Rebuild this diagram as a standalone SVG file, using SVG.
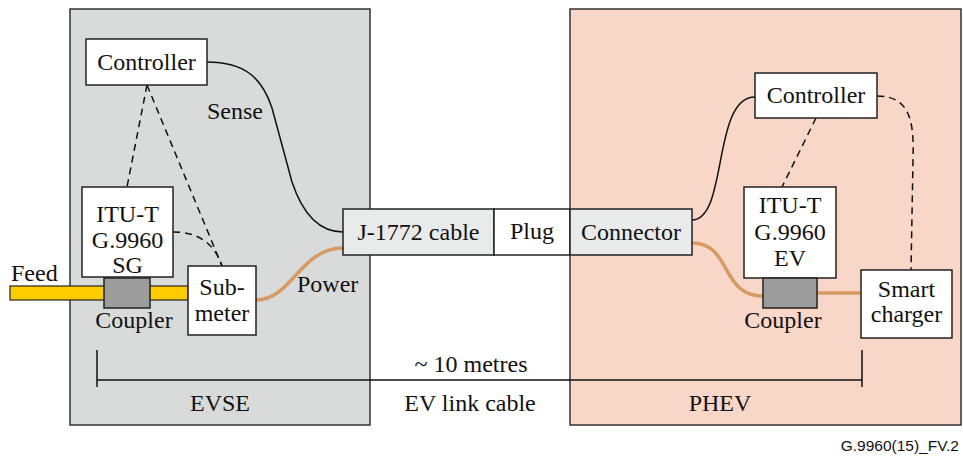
<svg xmlns="http://www.w3.org/2000/svg" width="963" height="457" viewBox="0 0 963 457">
<style>
text{font-family:"Liberation Serif","Times New Roman",serif;font-size:24px;fill:#111}
.c{text-anchor:middle}
.box{fill:#fff;stroke:#222;stroke-width:1.5}
.grey{fill:#e9ebea;stroke:#222;stroke-width:1.5}
.wire{fill:none;stroke:#111;stroke-width:1.5}
.dash{fill:none;stroke:#111;stroke-width:1.5;stroke-dasharray:7,5}
.pow{fill:none;stroke:#d69a62;stroke-width:3.5}
.coup{fill:#9c9c9c;stroke:#222;stroke-width:1.5}
</style>
<g id="evse">
<rect x="70" y="9" width="300" height="416" fill="#d9dbdb" stroke="#333" stroke-width="1.5"/>
<text class="c" x="220" y="411">EVSE</text>
</g>
<g id="phev">
<rect x="570" y="9" width="391" height="416" fill="#f9d7c8" stroke="#333" stroke-width="1.5"/>
<text class="c" x="720" y="411">PHEV</text>
</g>
<g id="feed">
<rect x="10" y="286" width="178" height="14" fill="#ffcc00" stroke="#222" stroke-width="1.2"/>
<text x="11" y="281">Feed</text>
</g>
<g id="connectors">
<path class="wire" d="M207,62 C245,62 262,78 272,108 L292,182 C302,212 318,232 343,232"/>
<path class="pow" d="M256,300 C292,300 300,248 343,248"/>
<path class="dash" d="M147,85 L127,187"/>
<path class="dash" d="M147,85 L222,266"/>
<path class="dash" d="M173,232 C200,232 215,245 222,266"/>
<path class="wire" d="M692,220 C728,220 712,97 755,97"/>
<path class="pow" d="M692,243 C732,243 720,296 763,296"/>
<path class="pow" d="M817,293 L861,293"/>
<path class="dash" d="M816,118 L782,187"/>
<path class="dash" d="M877,96 C912,96 914,125 913,160 L911,270"/>
<path class="wire" d="M97,350 V387 M97,380 H862 M862,350 V387"/>
</g>
<g id="controller-left">
<rect class="box" x="86" y="39" width="121" height="46"/>
<text class="c" x="146.5" y="70">Controller</text>
</g>
<text x="207" y="119">Sense</text>
<text x="297" y="292">Power</text>
<g id="itu-sg">
<rect class="box" x="82" y="187" width="91" height="90"/>
<text class="c" x="127.5" y="222">ITU-T</text>
<text class="c" x="127.5" y="248">G.9960</text>
<text class="c" x="127.5" y="273">SG</text>
</g>
<g id="coupler-left">
<rect class="coup" x="104" y="278" width="46" height="30"/>
<text class="c" x="134" y="328">Coupler</text>
</g>
<g id="submeter">
<rect class="box" x="188" y="266" width="68" height="69"/>
<text class="c" x="222" y="295">Sub-</text>
<text class="c" x="222" y="321">meter</text>
</g>
<g id="cable">
<rect class="grey" x="343" y="209" width="151" height="46"/>
<text class="c" x="418.5" y="240">J-1772 cable</text>
</g>
<g id="plug">
<rect class="box" x="494" y="209" width="76" height="46"/>
<text class="c" x="532" y="239">Plug</text>
</g>
<g id="connector">
<rect class="grey" x="570" y="209" width="122" height="46"/>
<text class="c" x="631" y="240">Connector</text>
</g>
<g id="controller-right">
<rect class="box" x="755" y="73" width="122" height="45"/>
<text class="c" x="816" y="103">Controller</text>
</g>
<g id="itu-ev">
<rect class="box" x="744" y="187" width="92" height="91"/>
<text class="c" x="790" y="213">ITU-T</text>
<text class="c" x="790" y="240">G.9960</text>
<text class="c" x="790" y="266">EV</text>
</g>
<g id="coupler-right">
<rect class="coup" x="763" y="278" width="54" height="30"/>
<text class="c" x="783" y="328">Coupler</text>
</g>
<g id="smart-charger">
<rect class="box" x="861" y="270" width="91" height="68"/>
<text class="c" x="906.5" y="297">Smart</text>
<text class="c" x="906.5" y="322">charger</text>
</g>
<text class="c" x="471" y="372">~ 10 metres</text>
<text class="c" x="470" y="411">EV link cable</text>
<text x="959" y="451" style="font-family:'Liberation Sans',Arial,sans-serif;font-size:15.5px;text-anchor:end">G.9960(15)_FV.2</text>
</svg>
